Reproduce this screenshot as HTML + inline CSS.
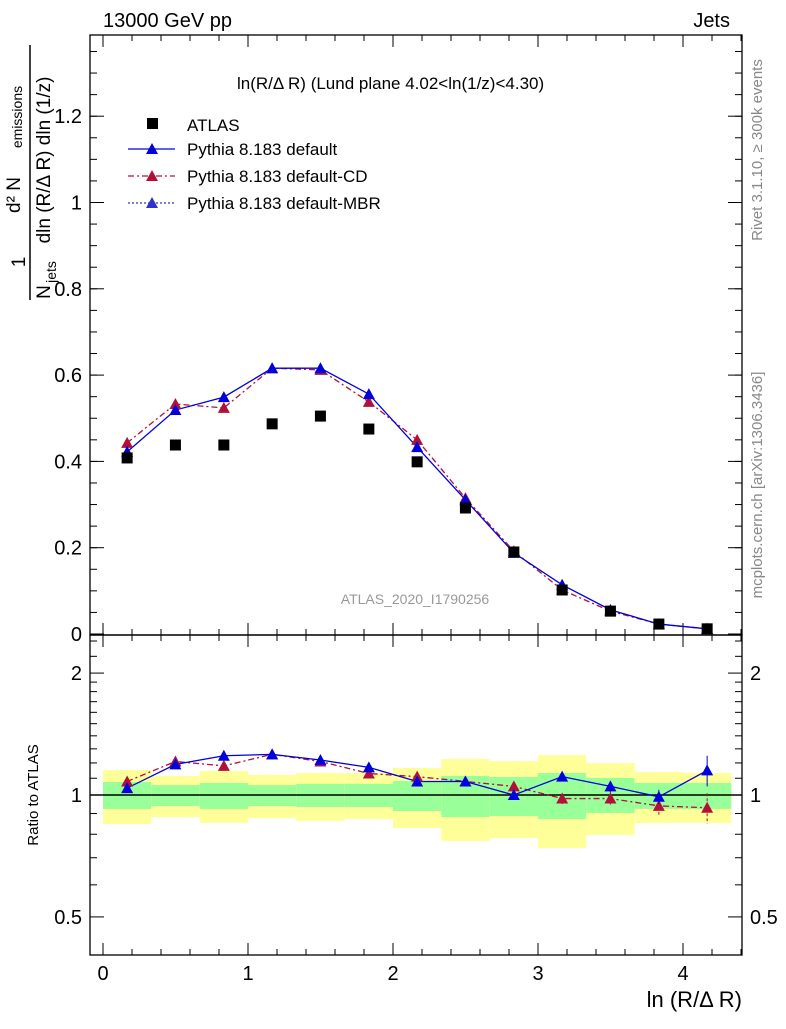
<!DOCTYPE html>
<html><head><meta charset="utf-8"><style>
body{margin:0;background:#fff}
text{font-family:"Liberation Sans",sans-serif}
</style></head><body>
<svg id="c" width="786" height="1024" xmlns="http://www.w3.org/2000/svg">
<g id="g"></g>
</svg>
<script>
const binLo=[0,0.333,0.667,1,1.333,1.667,2,2.333,2.667,3,3.333,3.667,4];
const binW=0.333;
const atlas=[0.408,0.438,0.438,0.487,0.505,0.475,0.399,0.292,0.190,0.102,0.053,0.023,0.012];
const pyDef=[0.422,0.519,0.549,0.616,0.616,0.556,0.433,0.311,0.188,0.114,0.056,0.023,0.012];
const pyCD=[0.443,0.533,0.524,0.616,0.612,0.538,0.45,0.315,0.192,0.102,0.053,0.023,0.012];
const rDef=[1.04,1.19,1.25,1.26,1.22,1.17,1.08,1.08,1.0,1.11,1.05,0.99,1.15];
const rDefErr=[0.01,0.01,0.01,0.01,0.01,0.01,0.01,0.01,0.01,0.02,0.03,0.04,0.1];
const rCD=[1.08,1.21,1.18,1.26,1.21,1.13,1.11,1.08,1.05,0.98,0.98,0.94,0.93];
const rCDErr=[0.01,0.01,0.01,0.01,0.01,0.01,0.01,0.01,0.02,0.03,0.04,0.05,0.08];
const yelHi=[1.153,1.114,1.146,1.121,1.133,1.133,1.166,1.227,1.213,1.255,1.199,1.140,1.133];
const yelLo=[0.848,0.882,0.853,0.877,0.863,0.872,0.829,0.770,0.783,0.740,0.797,0.853,0.853];
const grnHi=[1.077,1.058,1.071,1.058,1.065,1.065,1.083,1.114,1.108,1.133,1.102,1.071,1.071];
const grnLo=[0.924,0.939,0.924,0.939,0.934,0.934,0.913,0.882,0.887,0.872,0.903,0.924,0.924];
const xTicks=[0,1,2,3,4];
const yTicks=[0,0.2,0.4,0.6,0.8,1,1.2];
const rTicks=[0.5,1,2];

const X=v=>103+v*145;
const Y=v=>634-v*431.5;
const R=v=>795-Math.log10(v)*405;
const g=document.getElementById('g');
const NS='http://www.w3.org/2000/svg';
function mk(t,a,p){const e=document.createElementNS(NS,t);for(const k in a)e.setAttribute(k,a[k]);(p||g).appendChild(e);return e;}
function txt(s,x,y,a){const e=mk('text',Object.assign({x:x,y:y,'font-size':20},a||{}));e.textContent=s;return e;}

// bands
binLo.forEach((b,i)=>{
 let e=mk('rect',{x:X(b),y:R(yelHi[i]),width:binW*145,height:R(yelLo[i])-R(yelHi[i]),fill:'#ffff99'});
 
 e=mk('rect',{x:X(b),y:R(grnHi[i]),width:binW*145,height:R(grnLo[i])-R(grnHi[i]),fill:'#99ff99'});
 
});
mk('line',{x1:90,x2:742,y1:R(1),y2:R(1),stroke:'#000','stroke-width':1.5});

// frames
let f=mk('rect',{x:90,y:35,width:652,height:600,fill:'none',stroke:'#000','stroke-width':1.3});

f=mk('rect',{x:90,y:635,width:652,height:320,fill:'none',stroke:'#000','stroke-width':1.3});


// x ticks
xTicks.forEach(t=>{
 [[35,12],[635,-12],[635,12],[955,-12]].forEach(([y,l])=>mk('line',{x1:X(t),x2:X(t),y1:y,y2:y+l,stroke:'#000'}));
 const e=txt(String(t),X(t),980,{'text-anchor':'middle'});
 
});
for(let t=-0.0;t<4.41;t+=0.2){[[35,6],[635,-6],[635,6],[955,-6]].forEach(([y,l])=>mk('line',{x1:X(t),x2:X(t),y1:y,y2:y+l,stroke:'#000'}));}
// y ticks
yTicks.forEach(t=>{
 mk('line',{x1:90,x2:104,y1:Y(t),y2:Y(t),stroke:'#000'});
 mk('line',{x1:742,x2:728,y1:Y(t),y2:Y(t),stroke:'#000'});
 const e=txt(String(t),82,Y(t)+7,{'text-anchor':'end'});
 
});
for(let t=0;t<1.39;t+=0.05){mk('line',{x1:90,x2:97,y1:Y(t),y2:Y(t),stroke:'#000'});mk('line',{x1:742,x2:735,y1:Y(t),y2:Y(t),stroke:'#000'});}
rTicks.forEach(t=>{
 mk('line',{x1:90,x2:104,y1:R(t),y2:R(t),stroke:'#000'});
 mk('line',{x1:742,x2:728,y1:R(t),y2:R(t),stroke:'#000'});
 let e=txt(String(t),82,R(t)+7,{'text-anchor':'end'});
 
 e=txt(String(t),750,R(t)+7,{});
 
});
[0.6,0.7,0.8,0.9,1.1,1.2,1.3,1.4,1.5,1.6,1.7,1.8,1.9,2.2,2.4].forEach(t=>{mk('line',{x1:90,x2:97,y1:R(t),y2:R(t),stroke:'#000'});mk('line',{x1:742,x2:735,y1:R(t),y2:R(t),stroke:'#000'});});

function tri(x,y,c,name){const e=mk('path',{d:`M${x},${y-6}L${x+6},${y+5}L${x-6},${y+5}Z`,fill:c});}
const cx=i=>X(binLo[i]+binW/2);

// main series
let p=mk('polyline',{points:pyCD.map((v,i)=>cx(i)+','+Y(v)).join(' '),fill:'none',stroke:'#b0103a','stroke-width':1.3,'stroke-dasharray':'6,3,2,3'});

p=mk('polyline',{points:pyDef.map((v,i)=>cx(i)+','+Y(v)).join(' '),fill:'none',stroke:'#0000dd','stroke-width':1.3});

pyCD.forEach((v,i)=>tri(cx(i),Y(v),'#b0103a','pythia-cd-point'));
pyDef.forEach((v,i)=>tri(cx(i),Y(v),'#0000dd','pythia-default-point'));
atlas.forEach((v,i)=>{const e=mk('rect',{x:cx(i)-5.5,y:Y(v)-5.5,width:11,height:11,fill:'#000'});});

// ratio series
p=mk('polyline',{points:rCD.map((v,i)=>cx(i)+','+R(v)).join(' '),fill:'none',stroke:'#b0103a','stroke-width':1.3,'stroke-dasharray':'6,3,2,3'});

p=mk('polyline',{points:rDef.map((v,i)=>cx(i)+','+R(v)).join(' '),fill:'none',stroke:'#0000dd','stroke-width':1.3});

rCD.forEach((v,i)=>{mk('line',{x1:cx(i),x2:cx(i),y1:R(v+rCDErr[i]),y2:R(v-rCDErr[i]),stroke:'#b0103a','stroke-dasharray':'3,2'});tri(cx(i),R(v),'#b0103a','ratio-cd-point');});
rDef.forEach((v,i)=>{mk('line',{x1:cx(i),x2:cx(i),y1:R(v+rDefErr[i]),y2:R(v-rDefErr[i]),stroke:'#0000dd'});tri(cx(i),R(v),'#0000dd','ratio-default-point');});

// legend
const lg=[['Pythia 8.183 default','#0000dd',''],['Pythia 8.183 default-CD','#b0103a','6,3,2,3'],['Pythia 8.183 default-MBR','#3030cc','2,2']];
let e=mk('rect',{x:147,y:118,width:11,height:11,fill:'#000'});
e=txt('ATLAS',187,131,{'font-size':17});
lg.forEach((l,i)=>{const y=149+i*27;
 mk('line',{x1:128,x2:175,y1:y,y2:y,stroke:l[1],'stroke-width':1.3,'stroke-dasharray':l[2]});
 tri(152,y,l[1],'legend-marker');
 const t=txt(l[0],187,y+6,{'font-size':17});});

// titles
e=txt('13000 GeV pp',103,27,{'font-size':20});
e=txt('Jets',730,27,{'font-size':20,'text-anchor':'end'});
e=txt('ln(R/Δ R) (Lund plane 4.02<ln(1/z)<4.30)',237,89,{'font-size':17});
e=txt('ATLAS_2020_I1790256',415,604,{'font-size':14,fill:'#999','text-anchor':'middle'});
e=txt('ln (R/Δ R)',742,1007,{'font-size':22,'text-anchor':'end'});
e=txt('Ratio to ATLAS',0,0,{'font-size':15,'text-anchor':'middle',transform:'translate(38,795) rotate(-90)'});
e=txt('1/N_jets dN/dln(R/ΔR) dln(1/z)',0,0,{'font-size':0});
e=txt('d² N',0,0,{'font-size':19,'text-anchor':'middle',transform:'translate(20,195) rotate(-90)'});
e=txt('emissions',0,0,{'font-size':14,'text-anchor':'middle',transform:'translate(22,117) rotate(-90)'});
e=txt('dln (R/Δ R) dln (1/z)',0,0,{'font-size':19,'text-anchor':'middle',transform:'translate(50,160) rotate(-90)'});
mk('line',{x1:30,x2:30,y1:45,y2:300,stroke:'#000','stroke-width':1.5});
e=txt('1',0,0,{'font-size':19,'text-anchor':'middle',transform:'translate(25,262) rotate(-90)'});
e=txt('N',0,0,{'font-size':19,'text-anchor':'middle',transform:'translate(50,292) rotate(-90)'});
e=txt('jets',0,0,{'font-size':14,'text-anchor':'middle',transform:'translate(56,272) rotate(-90)'});
e=txt('Rivet 3.1.10, ≥ 300k events',0,0,{'font-size':15,fill:'#888','text-anchor':'middle',transform:'translate(762,150) rotate(-90)'});
e=txt('mcplots.cern.ch [arXiv:1306.3436]',0,0,{'font-size':15,fill:'#888','text-anchor':'middle',transform:'translate(762,485) rotate(-90)'});
</script>
</body></html>
